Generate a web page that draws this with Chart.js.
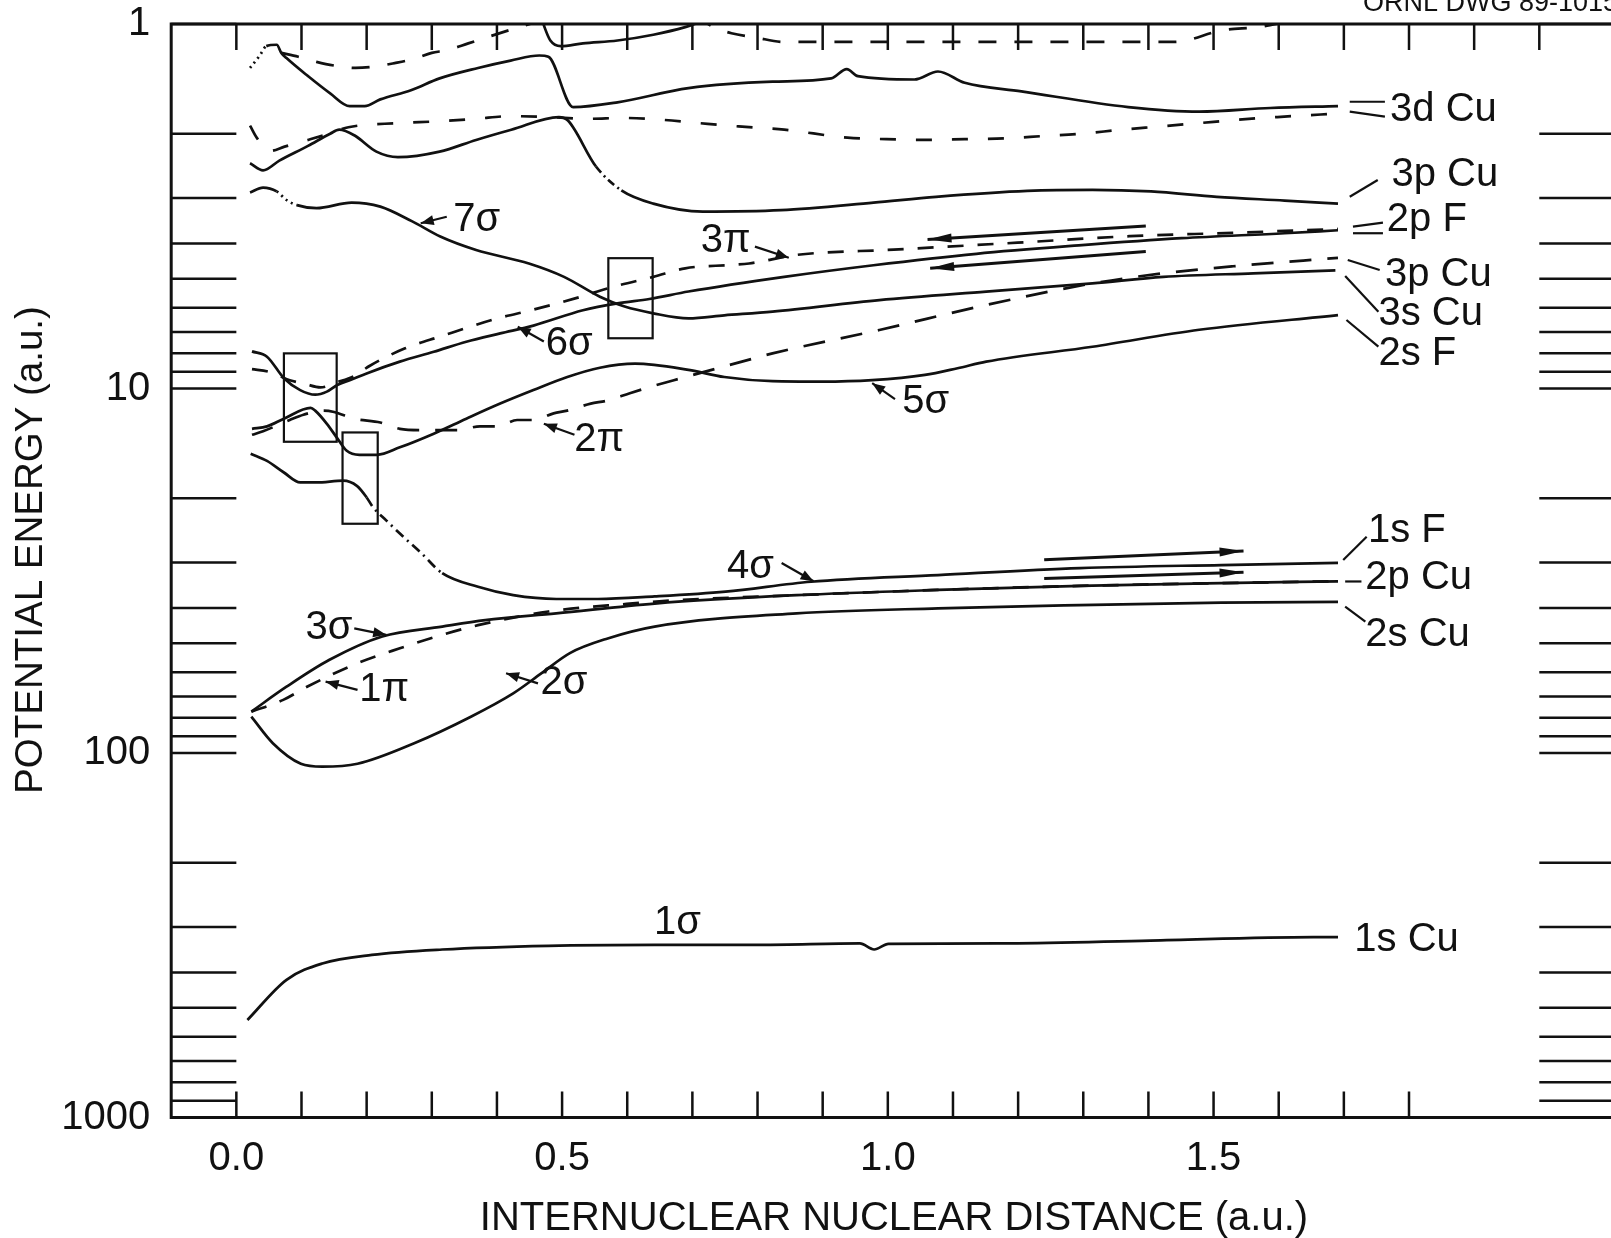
<!DOCTYPE html>
<html>
<head>
<meta charset="utf-8">
<script src="https://cdn.jsdelivr.net/npm/chart.js@4.4.1/dist/chart.umd.min.js"></script>
<style>
  html, body { margin: 0; padding: 0; background: #fff; overflow: hidden; }
  #Chart { display: block; }
</style>
</head>
<body>
<canvas id="Chart" width="1700" height="1238" style="width:1700px;height:1238px"></canvas>
<script>
// x = internuclear distance (a.u.), y = |potential energy| (a.u.)

const topSolidX = [0.021, 0.036, 0.046, 0.062, 0.069, 0.077, 0.110, 0.144, 0.174, 0.197, 0.221, 0.268, 0.312, 0.371, 0.421, 0.465, 0.479, 0.517, 0.585, 0.694, 0.823, 0.913, 0.937, 0.954, 1.041, 1.077, 1.118, 1.205, 1.369, 1.478, 1.587, 1.691];
const topSolidY = [1.32, 1.22, 1.15, 1.14, 1.20, 1.24, 1.39, 1.55, 1.68, 1.68, 1.61, 1.52, 1.41, 1.32, 1.26, 1.22, 1.23, 1.69, 1.64, 1.50, 1.44, 1.41, 1.33, 1.39, 1.42, 1.35, 1.45, 1.53, 1.69, 1.74, 1.70, 1.68];

const topDashX = [0.069, 0.095, 0.123, 0.150, 0.183, 0.210, 0.243, 0.270, 0.300, 0.323, 0.356, 0.383, 0.426, 0.461, 0.55, 0.65, 0.738, 0.760, 0.798, 0.841, 1.057, 1.440, 1.514, 1.569, 1.609, 1.66];
const topDashY = [1.20, 1.23, 1.27, 1.30, 1.32, 1.31, 1.28, 1.25, 1.20, 1.18, 1.13, 1.09, 1.03, 0.985, 0.85, 0.85, 1.03, 1.06, 1.09, 1.12, 1.12, 1.12, 1.04, 1.02, 0.99, 0.95];

const loopX = [0.470, 0.473, 0.482, 0.498, 0.532, 0.585, 0.640, 0.689, 0.718];
const loopY = [0.98, 1.02, 1.11, 1.15, 1.13, 1.11, 1.07, 1.02, 0.98];

const d3DashX = [0.021, 0.032, 0.052, 0.074, 0.110, 0.142, 0.172, 0.248, 0.308, 0.368, 0.421, 0.479, 0.541, 0.593, 0.650, 0.710, 0.771, 0.841, 0.938, 0.998, 1.063, 1.118, 1.178, 1.238, 1.298, 1.358, 1.418, 1.478, 1.538, 1.598, 1.691];
const d3DashY = [1.90, 2.06, 2.23, 2.17, 2.08, 2.00, 1.92, 1.87, 1.85, 1.82, 1.79, 1.80, 1.82, 1.81, 1.83, 1.87, 1.91, 1.95, 2.05, 2.07, 2.08, 2.07, 2.06, 2.03, 2.00, 1.95, 1.91, 1.87, 1.83, 1.80, 1.76];

const p3SolidX = [0.021, 0.041, 0.066, 0.110, 0.144, 0.158, 0.181, 0.215, 0.248, 0.312, 0.368, 0.422, 0.495, 0.509, 0.552, 0.591, 0.640, 0.716, 0.836, 0.978, 1.074, 1.214, 1.314, 1.404, 1.505, 1.609, 1.691];
const p3SolidY = [2.41, 2.52, 2.37, 2.16, 2.00, 1.95, 2.02, 2.24, 2.32, 2.24, 2.08, 1.95, 1.80, 1.84, 2.46, 2.86, 3.11, 3.27, 3.24, 3.09, 2.98, 2.87, 2.85, 2.88, 2.98, 3.05, 3.11];

const sigma7X = [0.021, 0.041, 0.062, 0.077, 0.093, 0.123, 0.177, 0.221, 0.270, 0.313, 0.368, 0.449, 0.503, 0.558, 0.596, 0.640, 0.694, 0.749, 0.823, 0.987, 1.151, 1.314, 1.423, 1.561, 1.687];
const sigma7Y = [2.90, 2.81, 2.88, 3.04, 3.14, 3.20, 3.09, 3.17, 3.48, 3.83, 4.17, 4.54, 4.94, 5.60, 5.96, 6.22, 6.42, 6.30, 6.15, 5.72, 5.42, 5.15, 4.94, 4.83, 4.74];

const sigma6X = [0.024, 0.047, 0.073, 0.098, 0.121, 0.139, 0.155, 0.175, 0.200, 0.251, 0.303, 0.353, 0.405, 0.456, 0.532, 0.585, 0.634, 0.694, 0.841, 0.978, 1.136, 1.293, 1.451, 1.609, 1.691];
const sigma6Y = [7.91, 8.18, 9.37, 10.1, 10.4, 10.2, 9.78, 9.48, 9.09, 8.44, 7.93, 7.44, 7.06, 6.72, 6.10, 5.84, 5.68, 5.42, 4.94, 4.59, 4.27, 4.05, 3.87, 3.75, 3.68];

const pi3X = [0.024, 0.049, 0.082, 0.106, 0.129, 0.155, 0.181, 0.205, 0.259, 0.312, 0.401, 0.454, 0.520, 0.580, 0.640, 0.689, 0.760, 0.787, 0.860, 1.009, 1.199, 1.372, 1.530, 1.691];
const pi3Y = [8.85, 8.99, 9.49, 9.72, 9.93, 9.61, 9.24, 8.66, 7.76, 7.21, 6.42, 6.09, 5.66, 5.25, 4.94, 4.68, 4.58, 4.54, 4.30, 4.16, 3.98, 3.82, 3.74, 3.65];

const sigma5X = [0.024, 0.047, 0.073, 0.114, 0.121, 0.139, 0.155, 0.169, 0.189, 0.216, 0.251, 0.303, 0.353, 0.405, 0.456, 0.508, 0.558, 0.612, 0.694, 0.749, 0.823, 0.899, 0.976, 1.057, 1.107, 1.151, 1.314, 1.478, 1.691];
const sigma5Y = [12.9, 12.7, 12.1, 11.3, 11.5, 12.5, 13.7, 14.8, 15.2, 15.2, 14.5, 13.3, 12.1, 11.0, 10.1, 9.30, 8.77, 8.55, 8.89, 9.30, 9.55, 9.58, 9.49, 9.18, 8.80, 8.44, 7.68, 6.90, 6.29];

const pi2X = [0.024, 0.041, 0.082, 0.103, 0.134, 0.150, 0.180, 0.221, 0.251, 0.282, 0.312, 0.341, 0.374, 0.401, 0.431, 0.456, 0.487, 0.508, 0.544, 0.569, 0.604, 0.636, 0.683, 0.776, 0.823, 0.987, 1.151, 1.314, 1.423, 1.530, 1.691];
const pi2Y = [13.4, 13.1, 12.2, 11.8, 11.5, 11.6, 12.1, 12.4, 12.9, 13.0, 13.0, 13.0, 12.7, 12.7, 12.2, 12.2, 11.7, 11.5, 11.0, 10.8, 10.3, 9.89, 9.37, 8.44, 8.01, 6.91, 5.90, 5.15, 4.83, 4.62, 4.38];

const sigma4X = [0.022, 0.047, 0.073, 0.098, 0.123, 0.164, 0.185, 0.200, 0.210, 0.230, 0.251, 0.284, 0.316, 0.371, 0.425, 0.491, 0.555, 0.642, 0.751, 0.882, 1.077, 1.295, 1.512, 1.691];
const sigma4Y = [15.1, 15.8, 17.0, 18.1, 18.1, 17.9, 18.5, 19.9, 21.2, 23.0, 25.0, 28.3, 32.1, 35.0, 36.9, 37.8, 37.8, 37.2, 36.1, 33.9, 32.5, 31.1, 30.5, 30.1];

const sigma3X = [0.023, 0.077, 0.143, 0.224, 0.316, 0.382, 0.491, 0.642, 0.860, 1.077, 1.295, 1.512, 1.691];
const sigma3Y = [77.0, 65.8, 55.5, 47.9, 45.0, 43.2, 41.4, 38.9, 36.9, 35.7, 34.8, 34.2, 33.8];

const pi1X = [0.023, 0.072, 0.110, 0.186, 0.251, 0.316, 0.371, 0.479, 0.599, 0.675, 0.860, 1.077, 1.295, 1.512, 1.691];
const pi1Y = [77.0, 71.5, 65.6, 56.7, 51.6, 47.4, 44.6, 40.9, 39.0, 38.1, 36.9, 35.7, 34.8, 34.2, 33.8];

const sigma2X = [0.023, 0.056, 0.099, 0.132, 0.186, 0.273, 0.360, 0.425, 0.468, 0.512, 0.570, 0.642, 0.860, 1.077, 1.294, 1.512, 1.691];
const sigma2Y = [79.5, 94.0, 107, 109, 107, 94.0, 79.5, 68.6, 60.5, 53.2, 48.5, 45.0, 41.4, 40.1, 39.3, 38.7, 38.5];

const sigma1X = [0.017, 0.077, 0.132, 0.208, 0.316, 0.479, 0.642, 0.805, 0.957, 0.979, 1.001, 1.186, 1.403, 1.653, 1.691];
const sigma1Y = [540, 419, 378, 358, 346, 338, 336, 336, 333, 346, 334, 333, 327, 320, 320];

// ticks
const xTickValues = [0.0, 0.1, 0.2, 0.3, 0.4, 0.5, 0.6, 0.7, 0.8, 0.9, 1.0, 1.1, 1.2, 1.3, 1.4, 1.5, 1.6, 1.7, 1.8, 1.9, 2.0];
const xTickLabels = [0.0, 0.5, 1.0, 1.5];
const yTickValues = [1, 2, 3, 4, 5, 6, 7, 8, 9, 10, 20, 30, 40, 50, 60, 70, 80, 90, 100, 200, 300, 400, 500, 600, 700, 800, 900, 1000];
const yTickLabels = [1, 10, 100, 1000];

// annotations, in data coordinates
const boxes = [
	{ x0: 0.073, x1: 0.154, y0: 8.01, y1: 14.0 },
	{ x0: 0.163, x1: 0.217, y0: 13.2, y1: 23.5 },
	{ x0: 0.571, x1: 0.639, y0: 4.39, y1: 7.28 }
];
const curveLabels = [
	{ text: '7σ', x: 0.369, y: 3.45 },
	{ text: '3π', x: 0.751, y: 3.95 },
	{ text: '6σ', x: 0.511, y: 7.56 },
	{ text: '2π', x: 0.557, y: 13.8 },
	{ text: '5σ', x: 1.058, y: 10.9 },
	{ text: '4σ', x: 0.789, y: 30.8 },
	{ text: '3σ', x: 0.142, y: 45.3 },
	{ text: '1π', x: 0.227, y: 67.1 },
	{ text: '2σ', x: 0.503, y: 64.4 },
	{ text: '1σ', x: 0.677, y: 292 }
];
const labelArrows = [
	{ from: [0.323, 3.38], to: [0.283, 3.52] },
	{ from: [0.796, 4.08], to: [0.848, 4.38] },
	{ from: [0.472, 7.43], to: [0.432, 6.77] },
	{ from: [0.519, 13.4], to: [0.472, 12.5] },
	{ from: [1.011, 10.7], to: [0.976, 9.67] },
	{ from: [0.837, 30.1], to: [0.886, 33.8] },
	{ from: [0.181, 45.5], to: [0.230, 47.4] },
	{ from: [0.186, 67.1], to: [0.137, 63.7] },
	{ from: [0.463, 64.4], to: [0.414, 60.4] }
];
const longArrows = [
	{ from: [1.396, 3.58], to: [1.061, 3.90] },
	{ from: [1.396, 4.21], to: [1.065, 4.68] },
	{ from: [1.240, 29.5], to: [1.546, 27.9] },
	{ from: [1.240, 33.2], to: [1.546, 31.9] }
];
const levelLabels = [
	{ text: '3d Cu', x: 1.771, y: 1.72 },
	{ text: '3p Cu', x: 1.773, y: 2.59 },
	{ text: '2p F', x: 1.766, y: 3.45 },
	{ text: '3p Cu', x: 1.763, y: 4.89 },
	{ text: '3s Cu', x: 1.753, y: 6.24 },
	{ text: '2s F', x: 1.753, y: 8.04 },
	{ text: '1s F', x: 1.737, y: 24.6 },
	{ text: '2p Cu', x: 1.733, y: 33.0 },
	{ text: '2s Cu', x: 1.733, y: 47.4 },
	{ text: '1s Cu', x: 1.716, y: 326 }
];
const connectors = [
	[[1.709, 1.634], [1.763, 1.634]],
	[[1.709, 1.740], [1.763, 1.795]],
	[[1.709, 2.977], [1.752, 2.679]],
	[[1.714, 3.596], [1.760, 3.507]],
	[[1.714, 3.750], [1.760, 3.750]],
	[[1.706, 4.439], [1.755, 4.731]],
	[[1.702, 4.912], [1.753, 6.157]],
	[[1.704, 6.487], [1.753, 7.677]],
	[[1.699, 29.53], [1.735, 25.50]],
	[[1.702, 33.84], [1.727, 33.84]],
	[[1.702, 39.68], [1.733, 43.61]]
];

const FONT = '"Liberation Sans", Arial, Helvetica, sans-serif';
const INK = '#111';

const toPoints = (xs, ys) => xs.map((x, i) => ({ x: x, y: ys[i] }));

const styledBetween = (from, to, pattern) => ({
	borderDash: c => (c.p0.parsed.x >= from - 1e-6 && c.p1.parsed.x <= to + 1e-6) ? pattern : undefined
});

const curve = (label, xs, ys, dash, segment) => ({
	label: label,
	data: toPoints(xs, ys),
	borderColor: INK,
	borderWidth: 2.7,
	borderDash: dash || [],
	pointRadius: 0,
	fill: false,
	cubicInterpolationMode: 'monotone',
	segment: segment || {}
});

function arrow(c, p0, p1, head, half) {
	c.beginPath(); c.moveTo(p0[0], p0[1]); c.lineTo(p1[0], p1[1]); c.stroke();
	const a = Math.atan2(p1[1] - p0[1], p1[0] - p0[0]);
	const bx = p1[0] - head * Math.cos(a), by = p1[1] - head * Math.sin(a);
	c.beginPath();
	c.moveTo(p1[0], p1[1]);
	c.lineTo(bx + half * Math.sin(a), by - half * Math.cos(a));
	c.lineTo(bx - half * Math.sin(a), by + half * Math.cos(a));
	c.closePath(); c.fill();
}

// frame, inward ticks, boxes, arrows and labels
const figureMarks = {
	id: 'figureMarks',
	beforeDatasetsDraw(chart) {
		const c = chart.ctx, a = chart.chartArea, xs = chart.scales.x, ys = chart.scales.y;
		c.save();
		c.strokeStyle = INK;
		c.lineWidth = 3;
		c.beginPath();
		c.moveTo(chart.width, a.top); c.lineTo(a.left, a.top); c.lineTo(a.left, a.bottom); c.lineTo(chart.width, a.bottom);
		c.stroke();

		c.lineWidth = 2.5;
		const xl = xs.getPixelForValue(0), xr = xs.getPixelForValue(2.0);
		ys.ticks.forEach(t => {
			const y = ys.getPixelForValue(t.value);
			c.beginPath();
			c.moveTo(a.left, y); c.lineTo(xl, y);
			c.moveTo(xr, y); c.lineTo(chart.width, y);
			c.stroke();
		});
		xs.ticks.forEach(t => {
			const x = xs.getPixelForValue(t.value);
			c.beginPath();
			c.moveTo(x, a.top); c.lineTo(x, a.top + 26);
			if (t.value <= 1.8 + 1e-9) { c.moveTo(x, a.bottom); c.lineTo(x, a.bottom - 26); }
			c.stroke();
		});
		c.restore();
	},
	afterDatasetsDraw(chart) {
		const c = chart.ctx, xs = chart.scales.x, ys = chart.scales.y;
		const px = p => [xs.getPixelForValue(p[0]), ys.getPixelForValue(p[1])];
		c.save();
		c.strokeStyle = INK; c.fillStyle = INK;

		c.lineWidth = 2.2;
		boxes.forEach(b => {
			const p = px([b.x0, b.y0]), q = px([b.x1, b.y1]);
			c.strokeRect(p[0], p[1], q[0] - p[0], q[1] - p[1]);
		});

		c.lineWidth = 2.2;
		labelArrows.forEach(r => arrow(c, px(r.from), px(r.to), 13, 5));
		c.lineWidth = 3;
		longArrows.forEach(r => arrow(c, px(r.from), px(r.to), 24, 4.5));

		c.lineWidth = 2.2;
		connectors.forEach(s => {
			const p = px(s[0]), q = px(s[1]);
			c.beginPath(); c.moveTo(p[0], p[1]); c.lineTo(q[0], q[1]); c.stroke();
		});

		c.font = '40px ' + FONT;
		c.textBaseline = 'middle';
		c.textAlign = 'center';
		curveLabels.forEach(l => { const p = px([l.x, l.y]); c.fillText(l.text, p[0], p[1]); });
		c.textAlign = 'left';
		levelLabels.forEach(l => { const p = px([l.x, l.y]); c.fillText(l.text, p[0], p[1]); });

		// axis titles
		c.textAlign = 'center';
		c.fillText('INTERNUCLEAR NUCLEAR DISTANCE (a.u.)', 894, 1219);
		c.save();
		c.translate(31, 550);
		c.rotate(-Math.PI / 2);
		c.font = '38.5px ' + FONT;
		c.fillText('POTENTIAL ENERGY (a.u.)', 0, 0);
		c.restore();

		// drawing number, cut by the top edge as in the scan
		c.font = '27px ' + FONT;
		c.textAlign = 'left';
		c.textBaseline = 'alphabetic';
		c.fillText('ORNL DWG 89-10158', 1363, 11);
		c.restore();
	}
};

const canvas = document.getElementById('Chart');
const ctx = canvas.getContext('2d');

const myChart = new Chart(ctx, {
	type: 'line',
	data: {
		datasets: [
			curve('3d Cu', topSolidX, topSolidY, null, styledBetween(0, 0.046, [2, 4])),
			curve('upper dashed', topDashX, topDashY, [18, 18]),
			curve('upper loop', loopX, loopY),
			curve('3d Cu dashed', d3DashX, d3DashY, [16, 20]),
			curve('3p Cu', p3SolidX, p3SolidY, null, styledBetween(0.552, 0.591, [8, 4, 2, 4])),
			curve('7σ', sigma7X, sigma7Y, null, styledBetween(0.062, 0.093, [2, 4])),
			curve('6σ', sigma6X, sigma6Y),
			curve('3π', pi3X, pi3Y, [16, 14]),
			curve('5σ', sigma5X, sigma5Y),
			curve('2π', pi2X, pi2Y, [22, 16]),
			curve('4σ', sigma4X, sigma4Y, null, styledBetween(0.200, 0.316, [10, 5, 2, 5])),
			curve('3σ', sigma3X, sigma3Y),
			curve('1π', pi1X, pi1Y, [16, 14]),
			curve('2σ', sigma2X, sigma2Y),
			curve('1σ', sigma1X, sigma1Y)
		]
	},
	options: {
		responsive: false,
		devicePixelRatio: 1,
		animation: false,
		layout: { padding: { left: 0, top: 24, right: 30.4, bottom: 0 } },
		plugins: { legend: { display: false }, tooltip: { enabled: false } },
		scales: {
			x: {
				type: 'linear',
				min: -0.1,
				max: 2.2,
				afterBuildTicks: s => { s.ticks = xTickValues.map(v => ({ value: v })); },
				afterFit: s => { s.height = 120.5; s.paddingLeft = 0; s.paddingRight = 0; },
				grid: { display: false, drawTicks: false },
				border: { display: false },
				ticks: {
					autoSkip: false,
					maxRotation: 0,
					padding: 17,
					color: INK,
					font: { family: FONT, size: 40 },
					callback: v => xTickLabels.some(t => Math.abs(t - v) < 1e-9) ? v.toFixed(1) : ''
				}
			},
			y: {
				type: 'logarithmic',
				min: 1,
				max: 1000,
				reverse: true,
				afterBuildTicks: s => { s.ticks = yTickValues.map(v => ({ value: v })); },
				afterFit: s => { s.width = 171.2; s.paddingTop = 0; s.paddingBottom = 0; },
				grid: { display: false, drawTicks: false },
				border: { display: false },
				ticks: {
					autoSkip: false,
					padding: 21,
					color: INK,
					font: { family: FONT, size: 40 },
					callback: v => yTickLabels.includes(v) ? String(v) : ''
				}
			}
		}
	},
	plugins: [figureMarks]
});
</script>
</body>
</html>
